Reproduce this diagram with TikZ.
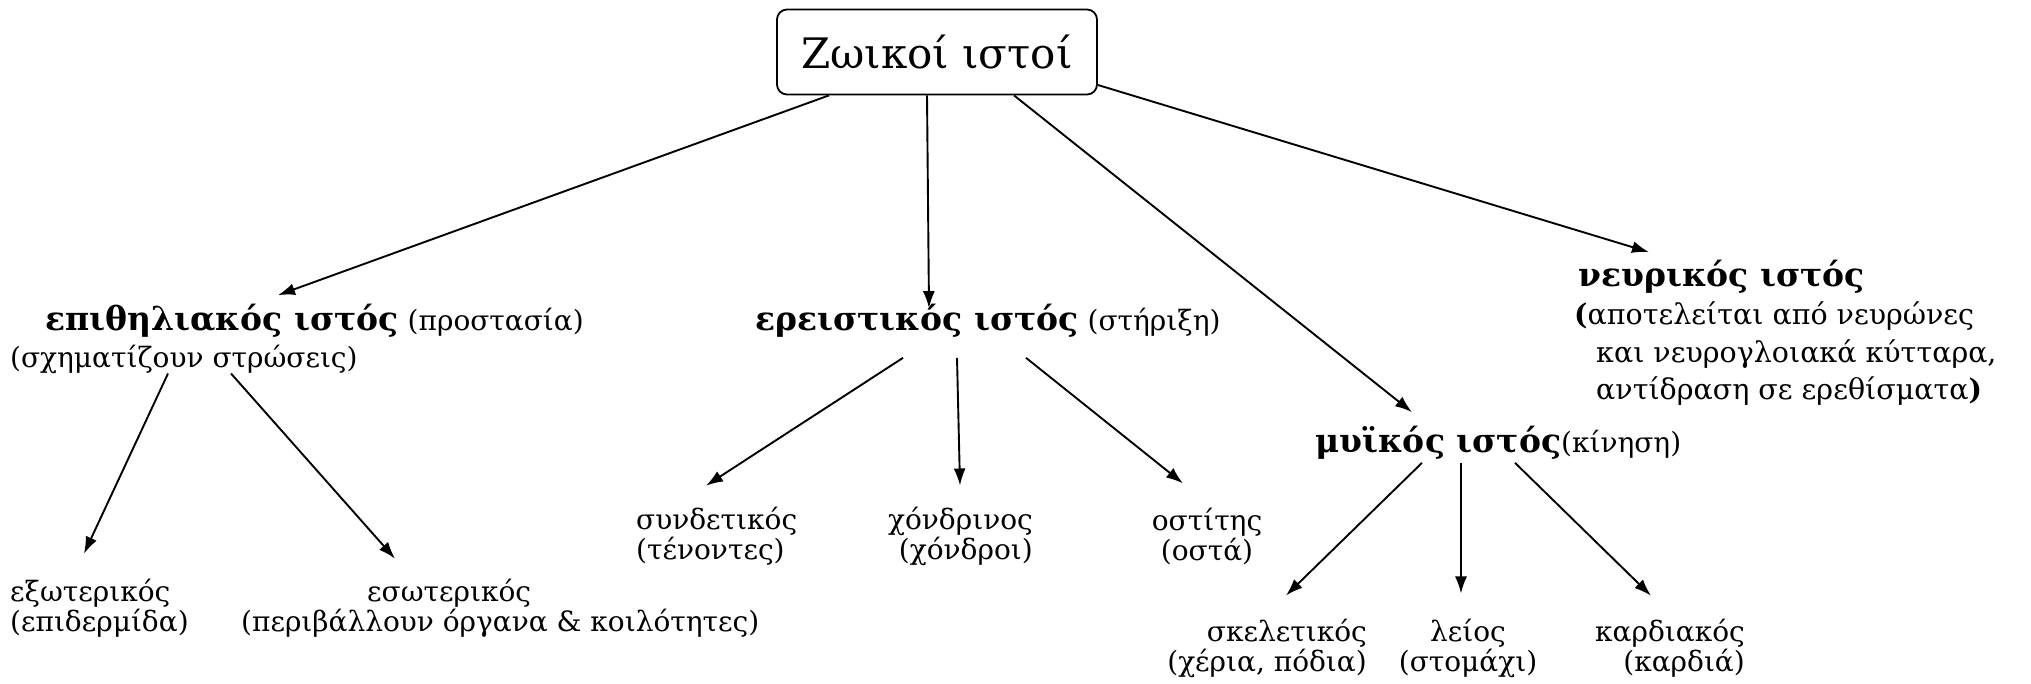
\documentclass[tikz,border=0pt]{standalone}
\usepackage{fontspec}
\setmainfont{DejaVu Serif}
\usetikzlibrary{arrows.meta,calc}
\newcommand{\hdfont}{\bfseries\fontsize{33}{36}\selectfont}
\begin{document}
\begin{tikzpicture}[x=1pt,y=-1pt,
  arr/.style={-{Latex[length=17pt,width=12pt]}, line width=1.9pt},
  txt/.style={inner sep=0pt, font=\fontsize{28}{30}\selectfont},
  hd/.style={font=\hdfont},
]
\useasboundingbox (0,0) rectangle (2031,684);
\node[draw, line width=1.8pt, rounded corners=10pt, minimum width=320pt, minimum height=85pt,
      font=\fontsize{42}{48}\selectfont] (root) at (937,52) {Ζωικοί ιστοί};

% epithelial
\node[txt, anchor=west] (epi) at (45,321) {{\hdfont επιθηλιακός ιστός} (προστασία)};
\node[txt, anchor=west] (episub) at (10,359) {(σχηματίζουν στρώσεις)};
\node[txt, anchor=west, align=left] (exo) at (10,608) {εξωτερικός\\(επιδερμίδα)};
\node[txt, anchor=west, align=left] (eso) at (241,608) {\hspace{126pt}εσωτερικός\\(περιβάλλουν όργανα \& κοιλότητες)};

% connective
\node[txt, anchor=west] (ere) at (755,321) {{\hdfont ερειστικός ιστός} (στήριξη)};
\node[txt, anchor=west, align=left] (synd) at (636,536) {συνδετικός\\(τένοντες)};
\node[txt, anchor=east, align=right] (chond) at (1033,536) {χόνδρινος\\(χόνδροι)};
\node[txt, align=center] (ost) at (1207,536) {οστίτης\\(οστά)};

% nervous
\node[txt, hd, anchor=west] (neu) at (1578,277) {νευρικός ιστός};
\node[txt, anchor=north west, align=left, font=\fontsize{28.5}{37.5}\selectfont] (neusub) at (1574,302)
  {\textbf{(}αποτελείται από νευρώνες\\\hspace{22pt}και νευρογλοιακά κύτταρα,\\\hspace{22pt}αντίδραση σε ερεθίσματα\textbf{)}};

% muscle
\node[txt, anchor=west] (myi) at (1315,443) {{\hdfont μυϊκός ιστός}(κίνηση)};
\node[txt, anchor=east, align=right] (skel) at (1367,648) {σκελετικός\\(χέρια, πόδια)};
\node[txt, align=center] (leios) at (1468,648) {λείος\\(στομάχι)};
\node[txt, anchor=east, align=right] (kard) at (1745,648) {καρδιακός\\(καρδιά)};

% arrows from root
\draw[arr] ([xshift=-108pt]root.south) -- ($(epi.north west)+(233,-9)$);
\draw[arr] ([xshift=-10pt]root.south) -- ($(ere.north west)+(174,4)$);
\draw[arr] ([xshift=77pt]root.south) -- ($(myi.north west)+(97,-14)$);
\draw[arr] ([yshift=-33pt]root.east) -- ($(neu.north west)+(71,-8)$);

% epithelial sub
\draw[arr] ($(episub.south west)+(158,0)$) -- ($(exo.north west)+(74,-25)$);
\draw[arr] ($(episub.south west)+(221,0)$) -- ($(eso.north west)+(154,-20)$);

% connective sub
\draw[arr] ($(ere.south west)+(148,20)$) -- ($(synd.north west)+(70,-21)$);
\draw[arr] ($(ere.south west)+(202,20)$) -- ($(chond.north east)+(-73,-21)$);
\draw[arr] ($(ere.south west)+(271,20)$) -- ($(ost.north)+(-24,-24)$);

% muscle sub
\draw[arr] ($(myi.south west)+(107,3)$) -- ($(skel.north east)+(-81,-23)$);
\draw[arr] ($(myi.south west)+(146,3)$) -- ($(leios.north)+(-7,-25)$);
\draw[arr] ($(myi.south west)+(200,3)$) -- ($(kard.north east)+(-94,-23)$);
\end{tikzpicture}
\end{document}
